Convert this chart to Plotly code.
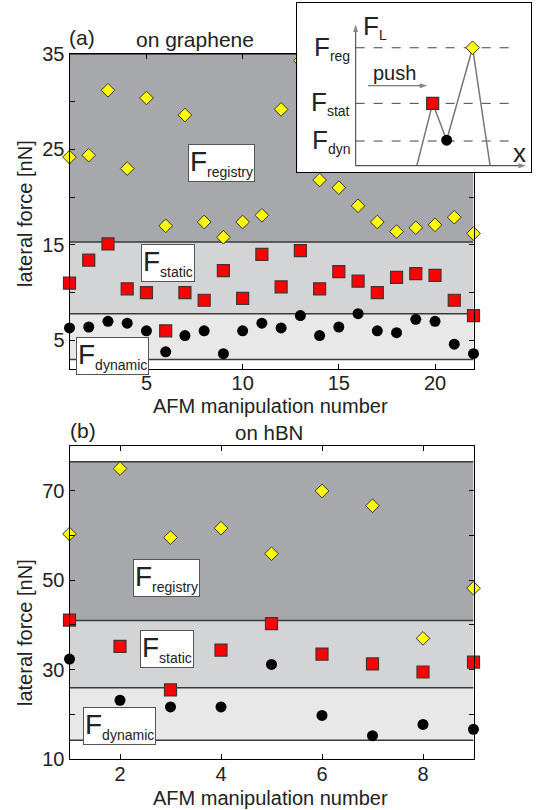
import plotly.graph_objects as go

W, H = 537, 810

# ---------------- data ----------------
graphene_n = list(range(1, 23))
graphene_registry = [24.2, 24.4, 31.2, 23.0, 30.4, 17.0, 28.6, 17.4, 15.8, 17.4, 18.1,
                     29.2, 34.3, 21.8, 21.0, 19.1, 17.4, 16.4, 16.8, 17.1, 17.9, 16.2]
graphene_static = [11.0, 13.4, 15.1, 10.4, 10.0, 6.0, 10.0, 9.2, 12.3, 9.4, 14.0,
                   10.6, 14.4, 10.4, 12.2, 11.2, 10.0, 11.6, 12.0, 11.8, 9.2, 7.6]
graphene_dynamic = [6.3, 6.4, 7.0, 6.8, 6.0, 3.8, 5.5, 6.0, 3.6, 6.0, 6.8,
                    6.3, 7.6, 5.5, 6.4, 7.8, 6.0, 5.8, 7.2, 7.0, 4.6, 3.6]
graphene_bands = [3.0, 7.8, 15.3, 35.0]   # dynamic bottom, dyn/static, static/registry, registry top

hbn_n = list(range(1, 10))
hbn_registry = [60.3, 74.9, 59.5, 61.6, 55.9, 69.9, 66.6, 37.0, 48.2]
hbn_static = [41.1, 35.2, 25.5, 34.4, 40.3, 33.5, 31.3, 29.5, 31.7]
hbn_dynamic = [32.4, 23.2, 21.7, 21.7, 31.2, 19.8, 15.3, 17.8, 16.7]
hbn_bands = [14.3, 26.0, 41.0, 76.4]

graphene_yticks = [5, 15, 25, 35]
graphene_yminor = [10, 20, 30]
graphene_xticks = [5, 10, 15, 20]
hbn_yticks = [10, 30, 50, 70]
hbn_yminor = [20, 40, 60]
hbn_xticks = [2, 4, 6, 8]

# inset schematic (arbitrary units 0-100)
inset_curve_x = [51.2, 58.0, 64.0, 75.1, 82.6]
inset_curve_y = [3.9, 40.8, 19.0, 73.7, 3.9]
inset_levels = [73.7, 40.8, 18.5]
inset_level_labels = ["reg", "stat", "dyn"]
inset_arrows = [((25.0, 3.9), (25.0, 87.5)), ((25.0, 3.9), (98.0, 3.9)), ((30.3, 51.2), (55.7, 51.2))]

# ---------------- styles ----------------
C_REG = "#a7a8ab"
C_STAT = "#d3d4d6"
C_DYN = "#e8e8e9"
C_EDGE = "#3a3a3a"
FONT = "Liberation Sans, Arial, sans-serif"

fig = go.Figure()

def px_x(p):
    return p / W

def px_y(p):
    return 1 - p / H

dom_x = [px_x(69.5), px_x(473.5)]
dom_y1 = [px_y(369), px_y(54)]
dom_y2 = [px_y(759.4), px_y(445.7)]

def add_series(n, reg, stat, dyn, xa, ya):
    fig.add_trace(go.Scatter(x=n, y=dyn, mode="markers", xaxis=xa, yaxis=ya, cliponaxis=False,
                             marker=dict(symbol="circle", size=11, color="black",
                                         line=dict(width=0)), showlegend=False))
    fig.add_trace(go.Scatter(x=n, y=stat, mode="markers", xaxis=xa, yaxis=ya, cliponaxis=False,
                             marker=dict(symbol="square", size=12, color="#ff0000",
                                         line=dict(width=1.2, color="#4a3030")), showlegend=False))
    fig.add_trace(go.Scatter(x=n, y=reg, mode="markers", xaxis=xa, yaxis=ya, cliponaxis=False,
                             marker=dict(symbol="diamond", size=10.5, color="#ffff00",
                                         line=dict(width=1, color="#333333")), showlegend=False))

def add_bands(bands, xr, xref, yref):
    cols = [C_DYN, C_STAT, C_REG]
    for i in range(3):
        fig.add_shape(type="rect", xref=xref, yref=yref, x0=xr[0], x1=xr[1],
                      y0=bands[i], y1=bands[i + 1], fillcolor=cols[i],
                      line=dict(width=0), layer="below")
    for b in bands:
        fig.add_shape(type="line", xref=xref, yref=yref, x0=xr[0], x1=xr[1],
                      y0=b, y1=b, line=dict(color=C_EDGE, width=1.5), layer="below")

add_bands(graphene_bands, [1, 22], "x", "y")
add_bands(hbn_bands, [1, 9], "x2", "y2")
add_series(graphene_n, graphene_registry, graphene_static, graphene_dynamic, "x", "y")
add_series(hbn_n, hbn_registry, hbn_static, hbn_dynamic, "x2", "y2")

# ---------------- inset ----------------
fig.add_trace(go.Scatter(x=[0, 100, 100, 0, 0], y=[0, 0, 100, 100, 0], xaxis="x3", yaxis="y3",
                         mode="lines", fill="toself", fillcolor="white",
                         line=dict(width=0), hoverinfo="skip", showlegend=False))
for lv in inset_levels:
    fig.add_trace(go.Scatter(x=[25.0, 94.0], y=[lv, lv], xaxis="x3", yaxis="y3", mode="lines",
                             line=dict(color="#444444", width=1, dash="dash"),
                             hoverinfo="skip", showlegend=False))
fig.add_trace(go.Scatter(x=inset_curve_x, y=inset_curve_y, xaxis="x3", yaxis="y3", mode="lines",
                         line=dict(color="#777777", width=1.5), hoverinfo="skip", showlegend=False))
fig.add_trace(go.Scatter(x=[inset_curve_x[1]], y=[inset_curve_y[1]], xaxis="x3", yaxis="y3",
                         mode="markers", marker=dict(symbol="square", size=12, color="#ff0000",
                                                     line=dict(width=1.2, color="#333333")),
                         showlegend=False))
fig.add_trace(go.Scatter(x=[inset_curve_x[2]], y=[inset_curve_y[2]], xaxis="x3", yaxis="y3",
                         mode="markers", marker=dict(symbol="circle", size=11, color="black"),
                         showlegend=False))
fig.add_trace(go.Scatter(x=[inset_curve_x[3]], y=[inset_curve_y[3]], xaxis="x3", yaxis="y3",
                         mode="markers", marker=dict(symbol="diamond", size=10.5, color="#ffff00",
                                                     line=dict(width=1, color="#333333")),
                         showlegend=False))

arrow_col = "#555555"
for (p0, p1) in inset_arrows:
    fig.add_trace(go.Scatter(x=[p0[0], p1[0]], y=[p0[1], p1[1]], xaxis="x3", yaxis="y3",
                             mode="lines+markers", cliponaxis=False,
                             line=dict(color=arrow_col, width=1.2),
                             marker=dict(symbol="arrow", size=[0, 8], angleref="previous",
                                         color=arrow_col, line=dict(width=0)),
                             hoverinfo="skip", showlegend=False))

for lv, lab in zip(inset_levels, inset_level_labels):
    fig.add_annotation(x=23.5, y=lv, xref="x3", yref="y3", xanchor="right", yanchor="middle",
                       showarrow=False,
                       text=f'F<sub><span style="font-size:14px">{lab}</span></sub>',
                       font=dict(size=26, family=FONT, color="#222222"))
fig.add_annotation(x=27.5, y=86, xref="x3", yref="y3", xanchor="left", yanchor="middle",
                   showarrow=False, text='F<sub><span style="font-size:14px">L</span></sub>',
                   font=dict(size=26, family=FONT, color="#222222"))
fig.add_annotation(x=31.5, y=59, xref="x3", yref="y3", xanchor="left", yanchor="middle",
                   showarrow=False, text="push", font=dict(size=20, family=FONT, color="#222222"))
fig.add_annotation(x=95.0, y=11.5, xref="x3", yref="y3", xanchor="center", yanchor="middle",
                   showarrow=False, text="x", font=dict(size=26, family=FONT, color="#222222"))

# ---------------- label boxes ----------------
def box(cx, cy, sub):
    fig.add_annotation(x=px_x(cx), y=px_y(cy), xref="paper", yref="paper",
                       xanchor="center", yanchor="middle", showarrow=False,
                       text=f'F<sub><span style="font-size:14px">{sub}</span></sub>',
                       font=dict(size=28, family=FONT, color="#222222"),
                       bgcolor="white", bordercolor="#555555", borderwidth=1, borderpad=1)

box(221.5, 162.5, "registry")
box(167.5, 263.4, "static")
box(112.9, 356.3, "dynamic")
box(166.0, 577.5, "registry")
box(167.2, 648.9, "static")
box(119.8, 725.7, "dynamic")

# ---------------- titles ----------------
def txt(cx, cy, s, size=21, angle=0):
    fig.add_annotation(x=px_x(cx), y=px_y(cy), xref="paper", yref="paper", xanchor="center",
                       yanchor="middle", showarrow=False, text=s, textangle=angle,
                       font=dict(size=size, family=FONT, color="#222222"))

txt(81.5, 37.5, "(a)")
txt(195, 39, "on graphene")
txt(82.5, 430, "(b)")
txt(268.5, 432, "on hBN", 20.5)
txt(270, 406, "AFM manipulation number", 20)
txt(270, 798, "AFM manipulation number", 20)
txt(25, 214, "lateral force [nN]", 20, -90)
txt(25, 633, "lateral force [nN]", 20, -90)

axis_common = dict(showline=True, linecolor="black", linewidth=1, mirror="ticks", ticks="inside",
                   ticklen=5, tickcolor="black", showgrid=False, zeroline=False, automargin=False,
                   tickfont=dict(size=20, family=FONT, color="#222222"))

fig.update_layout(
    width=W, height=H, margin=dict(l=0, r=0, t=0, b=0, autoexpand=False),
    paper_bgcolor="white", plot_bgcolor="white", showlegend=False,
    xaxis=dict(domain=dom_x, range=[1, 22], anchor="y", tickvals=graphene_xticks,
               ticklabelstandoff=-4, **axis_common),
    yaxis=dict(domain=dom_y1, range=[2, 35], anchor="x", tickvals=graphene_yticks,
               minor=dict(tickvals=graphene_yminor, ticks="inside", ticklen=5, tickcolor="black",
                          showgrid=False),
               **axis_common),
    xaxis2=dict(domain=dom_x, range=[1, 9], anchor="y2", tickvals=hbn_xticks,
                ticklabelstandoff=-3, **axis_common),
    yaxis2=dict(domain=dom_y2, range=[10, 80], anchor="x2", tickvals=hbn_yticks,
                minor=dict(tickvals=hbn_yminor, ticks="inside", ticklen=5, tickcolor="black",
                           showgrid=False),
                **axis_common),
    xaxis3=dict(domain=[px_x(297.3), px_x(530.7)], range=[0, 100], anchor="y3", showline=True,
                mirror=True, linecolor="black", linewidth=1, showticklabels=False, ticks="",
                showgrid=False, zeroline=False, fixedrange=True, automargin=False),
    yaxis3=dict(domain=[px_y(172.3), px_y(3.3)], range=[0, 100], anchor="x3", showline=True,
                mirror=True, linecolor="black", linewidth=1, showticklabels=False, ticks="",
                showgrid=False, zeroline=False, fixedrange=True, automargin=False),
)

fig.write_html("out.html", config={"displayModeBar": False},
               post_script="document.body.style.margin='0px';document.body.style.overflow='hidden';")
